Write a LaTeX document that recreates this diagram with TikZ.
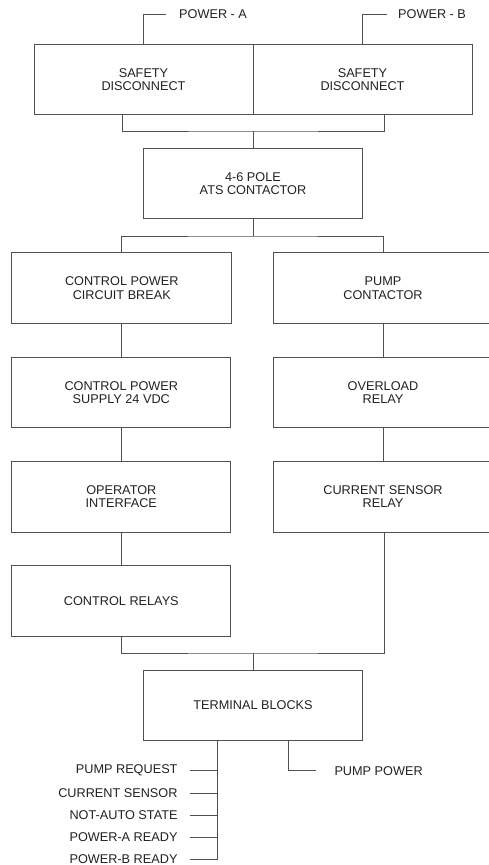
\documentclass[tikz,border=0pt]{standalone}
\usepackage{fontspec}
\setmainfont{Liberation Sans}
\definecolor{linecol}{HTML}{505050}
\definecolor{txtcol}{HTML}{222222}
\begin{document}
\begin{tikzpicture}[x=1pt,y=-1pt,
  every node/.style={text=txtcol,font=\fontsize{12.7}{13.5}\selectfont,inner sep=0pt},
  blk/.style={draw=linecol,line width=1pt,align=center,minimum width=219pt,minimum height=70.5pt},
  wire/.style={draw=linecol,line width=1pt},
  lbl/.style={anchor=west},
  rlbl/.style={anchor=east}]
\useasboundingbox (0,0) rectangle (489,865);
\fill[white] (0,0) rectangle (489,865);
% top boxes
\node[blk] (safeA) at (143.5,79.5) {SAFETY\\DISCONNECT};
\node[blk] (safeB) at (362.5,79.5) {SAFETY\\DISCONNECT};
\node[blk] (ats) at (253,183.5) {4-6 POLE\\ATS CONTACTOR};
% left column
\node[blk,minimum width=220pt] (cpcb) at (121.8,288) {CONTROL POWER\\CIRCUIT BREAK};
\node[blk] (cps) at (121.3,392.5) {CONTROL POWER\\SUPPLY 24 VDC};
\node[blk] (opi) at (121.3,496.8) {OPERATOR\\INTERFACE};
\node[blk] (rel) at (121.3,601.2) {CONTROL RELAYS};
% right column
\node[blk] (pump) at (383,288) {PUMP\\CONTACTOR};
\node[blk] (ovl) at (383,392.5) {OVERLOAD\\RELAY};
\node[blk] (csr) at (383,496.8) {CURRENT SENSOR\\RELAY};
% terminal
\node[blk] (term) at (253,705.5) {TERMINAL BLOCKS};
% power inputs
\coordinate (pa) at (166,14);
\coordinate (pb) at (387,14);
\node[lbl] (paL) at (179,14) {POWER - A};
\node[lbl] (pbL) at (398,14) {POWER - B};
\draw[wire] (pa) -| (safeA.north);
\draw[wire] (pb) -| (safeB.north);
% merge safety -> ats
\coordinate (m1) at (253,131);
\draw[wire] ([xshift=-21.5pt]safeA.south) |- (m1) -| ([xshift=21.5pt]safeB.south);
\draw[wire] (m1) -- (ats.north);
% split
\coordinate (s1) at (253,236);
\draw[wire] (ats.south) -- (s1);
\draw[wire] (cpcb.north) |- (s1) -| (pump.north);
% columns
\draw[wire] (cpcb.south) -- (cpcb.south |- cps.north);
\draw[wire] (cps.south) -- (cps.south |- opi.north);
\draw[wire] (opi.south) -- (opi.south |- rel.north);
\draw[wire] (pump.south) -- (ovl.north);
\draw[wire] (ovl.south) -- (csr.north);
% merge to terminal
\coordinate (m2) at (253,653);
\draw[wire] (rel.south) |- (m2) -| ([xshift=1.5pt]csr.south);
\draw[wire] (m2) -- (term.north);
% output bus
\coordinate (busend) at (217,859.5);
\draw[wire] (term.south -| busend) -- (busend);
\foreach \n/\y/\t in {a/770.7/PUMP REQUEST, b/793/CURRENT SENSOR, c/815/NOT-AUTO STATE, d/837/POWER-A READY, e/859/POWER-B READY}{
  \coordinate (tick\n) at (190,\y);
  \node[rlbl] (L\n) at (177.7,\y) {\t};
  \draw[wire] (tick\n) -- (tick\n -| busend);
}
% pump power
\coordinate (pp) at (315.7,770.7);
\draw[wire] ([xshift=35.7pt]term.south) |- (pp);
\node[lbl] (ppL) at (334.3,770.7) {PUMP POWER};
\end{tikzpicture}
\end{document}
